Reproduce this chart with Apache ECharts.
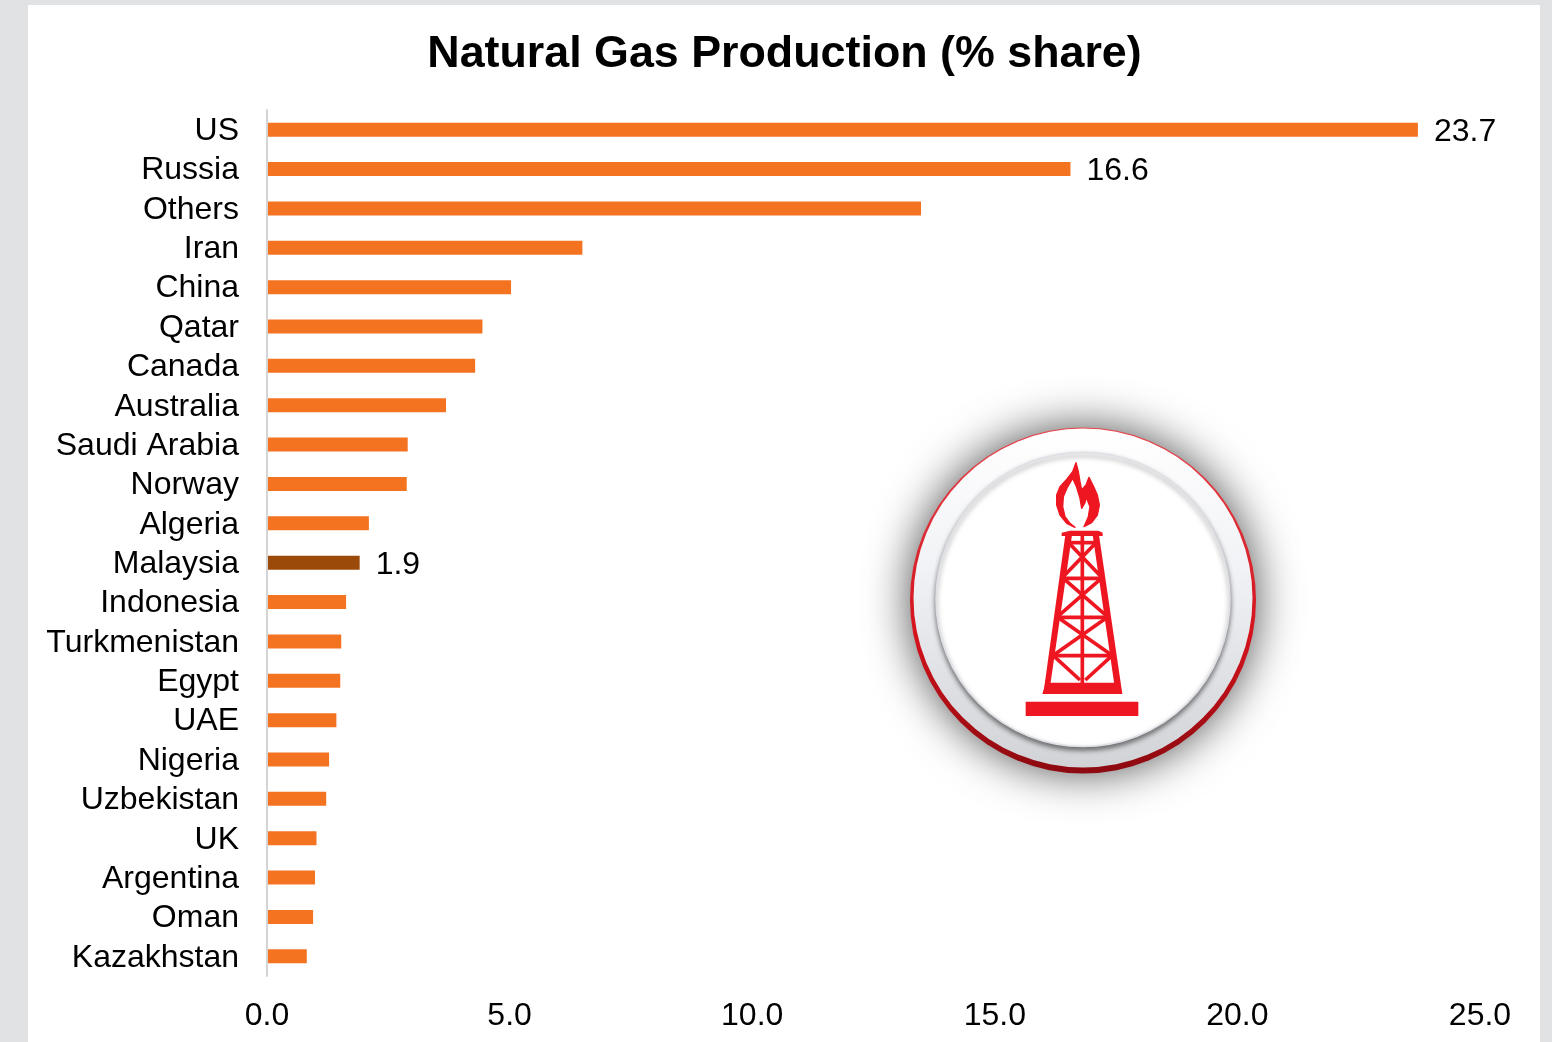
<!DOCTYPE html>
<html>
<head>
<meta charset="utf-8">
<style>html,body{margin:0;padding:0;background:#e1e2e4}#c{width:1552px;height:1042px}</style>
<script src="https://cdn.jsdelivr.net/npm/echarts@6/dist/echarts.min.js"></script>
</head>
<body>
<div id="c"></div>
<script>
const chartTitle = 'Natural Gas Production (% share)';
const countries = ['US','Russia','Others','Iran','China','Qatar','Canada','Australia','Saudi Arabia','Norway','Algeria','Malaysia','Indonesia','Turkmenistan','Egypt','UAE','Nigeria','Uzbekistan','UK','Argentina','Oman','Kazakhstan'];
const shares = [23.72,16.56,13.48,6.5,5.03,4.44,4.29,3.69,2.9,2.88,2.1,1.91,1.63,1.53,1.51,1.43,1.28,1.22,1.02,0.99,0.95,0.82];
const labelled = ['US','Russia','Malaysia'];
const highlighted = 'Malaysia';
const FONT = '"Liberation Sans", Arial, sans-serif';
const ORANGE = '#f47321', BROWN = '#9c4a0a', RED = '#ee1620';

function line(x1,y1,x2,y2,w){
  return {type:'line', z:3, silent:true, shape:{x1,y1,x2,y2}, style:{stroke:RED, lineWidth:w||11}};
}
function poly(points, w){
  return {type:'polygon', z:3, silent:true, shape:{points}, style:{fill:RED, stroke:RED, lineWidth:w||0, lineJoin:'round'}};
}
const flamePoints = [[585,382],[560,370],[540,345],[530,315],[530,285],[540,260],[560,238],[578,215],[588,188],[595,215],[600,245],[605,270],[618,255],[627,232],[640,258],[652,285],[658,315],[652,345],[635,368],[612,380],[625,350],[630,320],[618,290],[615,308],[605,325],[600,295],[590,262],[578,235],[562,262],[550,290],[548,320],[555,350],[570,370]];
const towerParts = [
  poly([[556,405],[576,405],[510,860],[490,882]]),
  poly([[638,405],[657,405],[727,882],[704,860]]),
  poly([[497,848],[715,848],[727,882],[487,882]]),
  poly([[570,392],[655,392],[668,398],[668,408],[545,408],[545,398]]),
  {type:'rect', z:3, silent:true, shape:{x:437,y:905,width:338,height:43}, style:{fill:RED}},
  line(607,405,607,850,11),
  line(560,428,654,428),
  line(545,535,668,535),
  line(530,652,685,652),
  line(518,767,698,767),
  line(566,428,668,535), line(648,428,545,535),
  line(550,535,685,652), line(664,535,530,652),
  line(533,652,698,767), line(682,652,518,767),
  line(520,767,600,840), line(696,767,616,840),
  poly(flamePoints, 4)
];

const option = {
  backgroundColor: '#e1e2e4',
  animation: false,
  title: {
    text: chartTitle, left: 779.5, top: 27, textAlign: 'center',
    textStyle: {fontFamily: FONT, fontSize: 44.8, fontWeight: 'bold', color: '#000'}
  },
  grid: {left: 267, right: 72, top: 110, bottom: 66, containLabel: false},
  xAxis: {
    type: 'value', min: 0, max: 25, interval: 5,
    axisLine: {show: false}, axisTick: {show: false}, splitLine: {show: false},
    axisLabel: {
      margin: 24, color: '#000', fontFamily: FONT, fontSize: 32,
      formatter: v => v.toFixed(1), showMinLabel: true, showMaxLabel: true
    }
  },
  yAxis: {
    type: 'category', inverse: true, data: countries, z: 5,
    axisLine: {show: true, lineStyle: {color: '#d4d4d4', width: 2}},
    axisTick: {show: false}, splitLine: {show: false},
    axisLabel: {
      margin: 28, interval: 0,
      formatter: v => '{a|' + v + '}',
      rich: {a: {color: '#000', fontFamily: FONT, fontSize: 32, padding: [3,0,0,0]}}
    }
  },
  series: [{
    type: 'bar', barWidth: 14, z: 3,
    data: shares.map((v, i) => ({
      value: v,
      itemStyle: {color: countries[i] === highlighted ? BROWN : ORANGE},
      label: {
        show: labelled.includes(countries[i]), position: 'right', distance: 16,
        offset: [0, 2], color: '#000', fontFamily: FONT, fontSize: 32,
        formatter: p => p.value.toFixed(1)
      }
    }))
  }],
  graphic: [
    {type:'rect', z:-10, silent:true, shape:{x:28,y:5,width:1512,height:1037}, style:{fill:'#fff'}},
    {type:'circle', z:1, silent:true, shape:{cx:1083,cy:600,r:172},
      style:{fill:'#fff', shadowBlur:46, shadowColor:'rgba(0,0,0,0.72)'}},
    {type:'circle', z:1, silent:true, shape:{cx:1083,cy:600.5,r:173},
      style:{fill:{type:'linear',x:0,y:0,x2:0,y2:1,colorStops:[{offset:0,color:'#e4444c'},{offset:0.6,color:'#d5121c'},{offset:1,color:'#8c0a10'}]}}},
    {type:'circle', z:1, silent:true, shape:{cx:1083,cy:598,r:169.5},
      style:{fill:{type:'linear',x:0,y:0,x2:0,y2:1,colorStops:[{offset:0,color:'#ffffff'},{offset:0.4,color:'#f2f3f6'},{offset:0.75,color:'#dfe0e4'},{offset:1,color:'#d2d3d6'}]}}},
    {type:'circle', z:1, silent:true, shape:{cx:1083,cy:599.5,r:147},
      style:{fill:'#fff', stroke:'#dfe0e6', lineWidth:1.5, shadowBlur:5, shadowOffsetY:3, shadowColor:'rgba(0,0,0,0.5)'}},
    {type:'group', z:3, silent:true, x:880, y:400, scaleX:1/3, scaleY:1/3, children:towerParts}
  ]
};
echarts.init(document.getElementById('c'), null, {renderer:'canvas'}).setOption(option);
</script>
</body>
</html>
